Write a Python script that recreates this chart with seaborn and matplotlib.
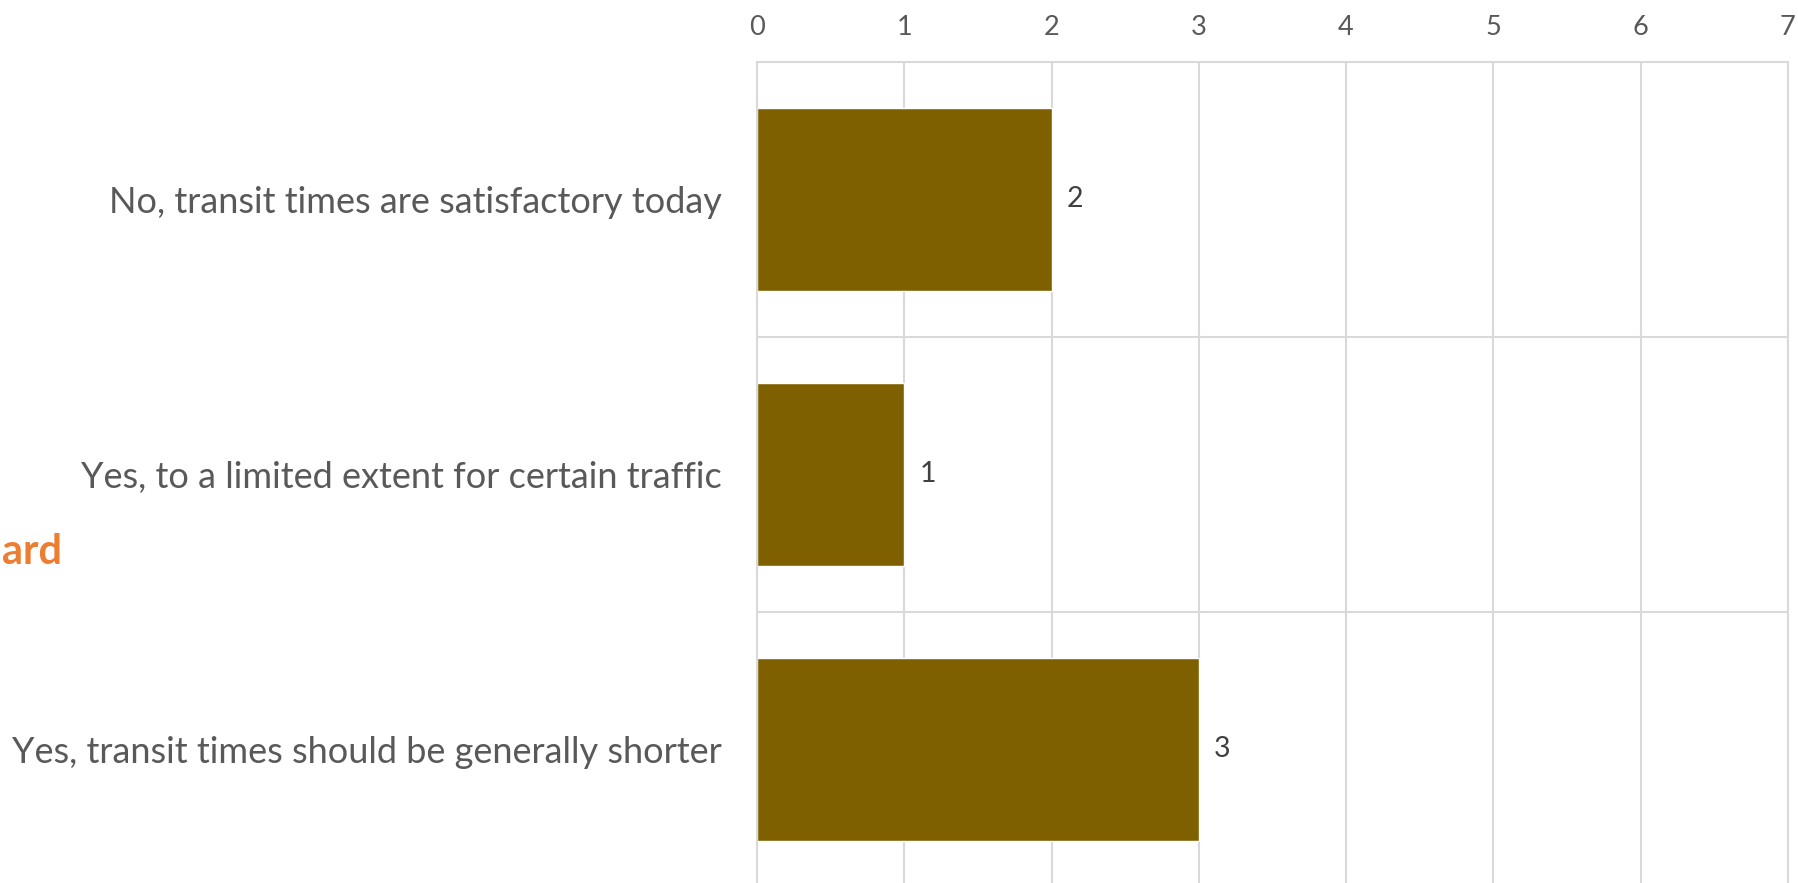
import matplotlib
matplotlib.use("Agg")
import matplotlib.pyplot as plt
import seaborn as sns
import pandas as pd

categories = [
    "No, transit times are satisfactory today",
    "Yes, to a limited extent for certain traffic",
    "Yes, transit times should be generally shorter",
]
counts = [2, 1, 3]
x_ticks = [0, 1, 2, 3, 4, 5, 6, 7]

sns.set_theme(style="white")
plt.rcParams["font.family"] = ["Lato", "DejaVu Sans"]

df = pd.DataFrame({"answer": categories, "count": counts})

fig = plt.figure(figsize=(17.98, 8.83), dpi=100)
ax = fig.add_axes([0.421, -0.0045, 0.5734, 0.9343])

sns.barplot(data=df, y="answer", x="count", orient="h", color="#7F6000",
            width=0.667, saturation=1, ax=ax)

grid_c = "#D9D9D9"
ax.set_xlim(0, 7)
ax.set_ylim(2.5, -0.5)
ax.set_xticks(x_ticks)
ax.xaxis.tick_top()
ax.tick_params(axis="x", length=0, pad=16, labelsize=19.5, labelcolor="#595959")
ax.tick_params(axis="y", length=0, pad=25, labelsize=26, labelcolor="#595959")
ax.set_xlabel("")
ax.set_ylabel("")

ax.grid(axis="x", color=grid_c, linewidth=1.5)
ax.set_yticks([0.5, 1.5], minor=True)
ax.grid(axis="y", which="minor", color=grid_c, linewidth=1.5)
ax.grid(axis="y", which="major", visible=False)
ax.set_axisbelow(True)
for sp in ax.spines.values():
    sp.set_color(grid_c)
    sp.set_linewidth(1.5)

ax.bar_label(ax.containers[0], labels=[str(v) for v in counts], padding=11,
             fontsize=20.5, color="#404040")

fig.text(0.001, 1 - 552 / 883, "ard", color="#ED7D31", fontsize=30,
         fontweight="bold", ha="left", va="center")

fig.savefig("out.png", dpi=100)
